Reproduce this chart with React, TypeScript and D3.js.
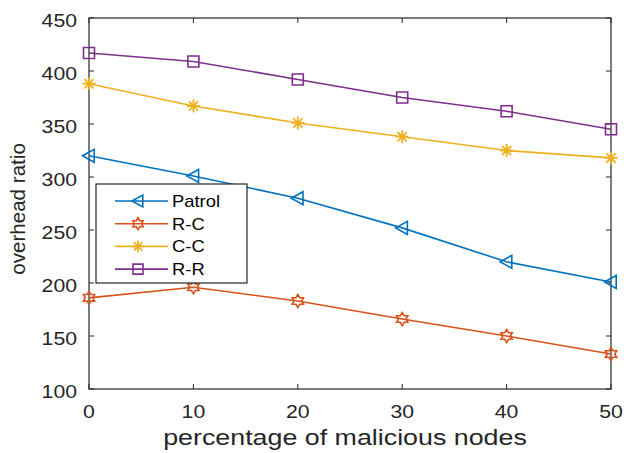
import { useEffect, useRef } from 'react'
import * as d3 from 'd3'

const xValues = [0, 10, 20, 30, 40, 50]
const patrol = [320, 301, 280, 252, 220, 201]
const rc = [186, 196, 183, 166, 150, 133]
const cc = [388, 367, 351, 338, 325, 318]
const rr = [417, 409, 392, 375, 362, 345]
const yTicks = [100, 150, 200, 250, 300, 350, 400, 450]
const seriesNames = ['Patrol', 'R-C', 'C-C', 'R-R']

const COLORS = ['#0072BD', '#D95319', '#EDB120', '#7E2F8E']
const MARKERS = ['triangle', 'hexagram', 'asterisk', 'square']

function markerPath(type: string, s: number) {
  if (type === 'triangle') {
    return `M${-s},0L${s * 0.8},${-s}L${s * 0.8},${s}Z`
  }
  if (type === 'square') {
    return `M${-s},${-s}H${s}V${s}H${-s}Z`
  }
  if (type === 'hexagram') {
    const pts: string[] = []
    for (let i = 0; i < 12; i++) {
      const r = i % 2 === 0 ? s : s * 0.58
      const a = (Math.PI / 6) * i - Math.PI / 2
      pts.push(`${r * Math.cos(a)},${r * Math.sin(a)}`)
    }
    return `M${pts.join('L')}Z`
  }
  // asterisk
  let p = ''
  for (let i = 0; i < 4; i++) {
    const a = (Math.PI / 4) * i
    p += `M${-s * Math.cos(a)},${-s * Math.sin(a)}L${s * Math.cos(a)},${s * Math.sin(a)}`
  }
  return p
}

export default function App() {
  const ref = useRef<SVGSVGElement>(null)

  useEffect(() => {
    if (!ref.current) return
    const width = 624
    const height = 453
    const margin = { top: 18, right: 13, bottom: 64, left: 89 }
    const innerW = width - margin.left - margin.right
    const innerH = height - margin.top - margin.bottom
    const axisColor = '#262626'
    const font = '"Liberation Sans", Arial, sans-serif'

    const svg = d3.select(ref.current)
    svg.selectAll('*').remove()
    svg.attr('width', width).attr('height', height)
    svg.append('rect').attr('width', width).attr('height', height).attr('fill', '#fff')

    const g = svg.append('g').attr('transform', `translate(${margin.left},${margin.top})`)

    const x = d3.scaleLinear().domain([0, 50]).range([0, innerW])
    const y = d3.scaleLinear().domain([100, 450]).range([innerH, 0])

    // box
    g.append('rect')
      .attr('width', innerW)
      .attr('height', innerH)
      .attr('fill', 'none')
      .attr('stroke', axisColor)
      .attr('stroke-width', 1.2)

    // ticks (inward, all four sides)
    const tl = 5
    xValues.forEach((v) => {
      g.append('line').attr('x1', x(v)).attr('x2', x(v)).attr('y1', innerH).attr('y2', innerH - tl).attr('stroke', axisColor)
      g.append('line').attr('x1', x(v)).attr('x2', x(v)).attr('y1', 0).attr('y2', tl).attr('stroke', axisColor)
      g.append('text')
        .attr('transform', `translate(${x(v)},${innerH + 29}) scale(1.18,1)`)
        .attr('text-anchor', 'middle')
        .attr('font-family', font)
        .attr('font-size', 18)
        .attr('fill', axisColor)
        .text(v)
    })
    yTicks.forEach((v) => {
      g.append('line').attr('x1', 0).attr('x2', tl).attr('y1', y(v)).attr('y2', y(v)).attr('stroke', axisColor)
      g.append('line').attr('x1', innerW).attr('x2', innerW - tl).attr('y1', y(v)).attr('y2', y(v)).attr('stroke', axisColor)
      g.append('text')
        .attr('transform', `translate(-12,${y(v) + 8.5}) scale(1.18,1)`)
        .attr('text-anchor', 'end')
        .attr('font-family', font)
        .attr('font-size', 18)
        .attr('fill', axisColor)
        .text(v)
    })

    // axis labels
    svg.append('text')
      .attr('transform', `translate(${margin.left + innerW / 2 - 5},${height - 8}) scale(1.22,1)`)
      .attr('text-anchor', 'middle')
      .attr('font-family', font)
      .attr('font-size', 22)
      .attr('fill', axisColor)
      .text('percentage of malicious nodes')
    svg.append('text')
      .attr('transform', `translate(25,209) rotate(-90) scale(1.03,1)`)
      .attr('text-anchor', 'middle')
      .attr('font-family', font)
      .attr('font-size', 20)
      .attr('fill', axisColor)
      .text('overhead ratio')

    const allSeries = [patrol, rc, cc, rr]
    const line = d3
      .line<number>()
      .x((_, i) => x(xValues[i]))
      .y((d) => y(d))

    allSeries.forEach((vals, si) => {
      g.append('path')
        .attr('d', line(vals))
        .attr('fill', 'none')
        .attr('stroke', COLORS[si])
        .attr('stroke-width', 1.6)
      g.selectAll(null)
        .data(vals)
        .enter()
        .append('path')
        .attr('transform', (d, i) => `translate(${x(xValues[i])},${y(d)})`)
        .attr('d', markerPath(MARKERS[si], MARKERS[si] === 'square' ? 5.5 : 6.5))
        .attr('fill', 'none')
        .attr('stroke', COLORS[si])
        .attr('stroke-width', MARKERS[si] === 'asterisk' ? 1.8 : 1.6)
    })

    // legend
    const lg = svg.append('g').attr('transform', 'translate(96,184)')
    lg.append('rect')
      .attr('width', 151)
      .attr('height', 99)
      .attr('fill', '#fff')
      .attr('stroke', axisColor)
      .attr('stroke-width', 1.2)
    seriesNames.forEach((name, i) => {
      const ly = 17 + i * 22.7
      lg.append('line').attr('x1', 19).attr('x2', 72).attr('y1', ly).attr('y2', ly).attr('stroke', COLORS[i]).attr('stroke-width', 1.6)
      lg.append('path')
        .attr('transform', `translate(42,${ly})`)
        .attr('d', markerPath(MARKERS[i], MARKERS[i] === 'square' ? 5 : 6))
        .attr('fill', 'none')
        .attr('stroke', COLORS[i])
        .attr('stroke-width', 1.6)
      lg.append('text')
        .attr('transform', `translate(76,${ly + 6}) scale(1.15,1)`)
        .attr('font-family', font)
        .attr('font-size', 16)
        .attr('fill', '#000')
        .text(name)
    })
  }, [])

  return (
    <div style={{ position: 'fixed', left: 0, top: 0 }}>
      <svg ref={ref} />
    </div>
  )
}
